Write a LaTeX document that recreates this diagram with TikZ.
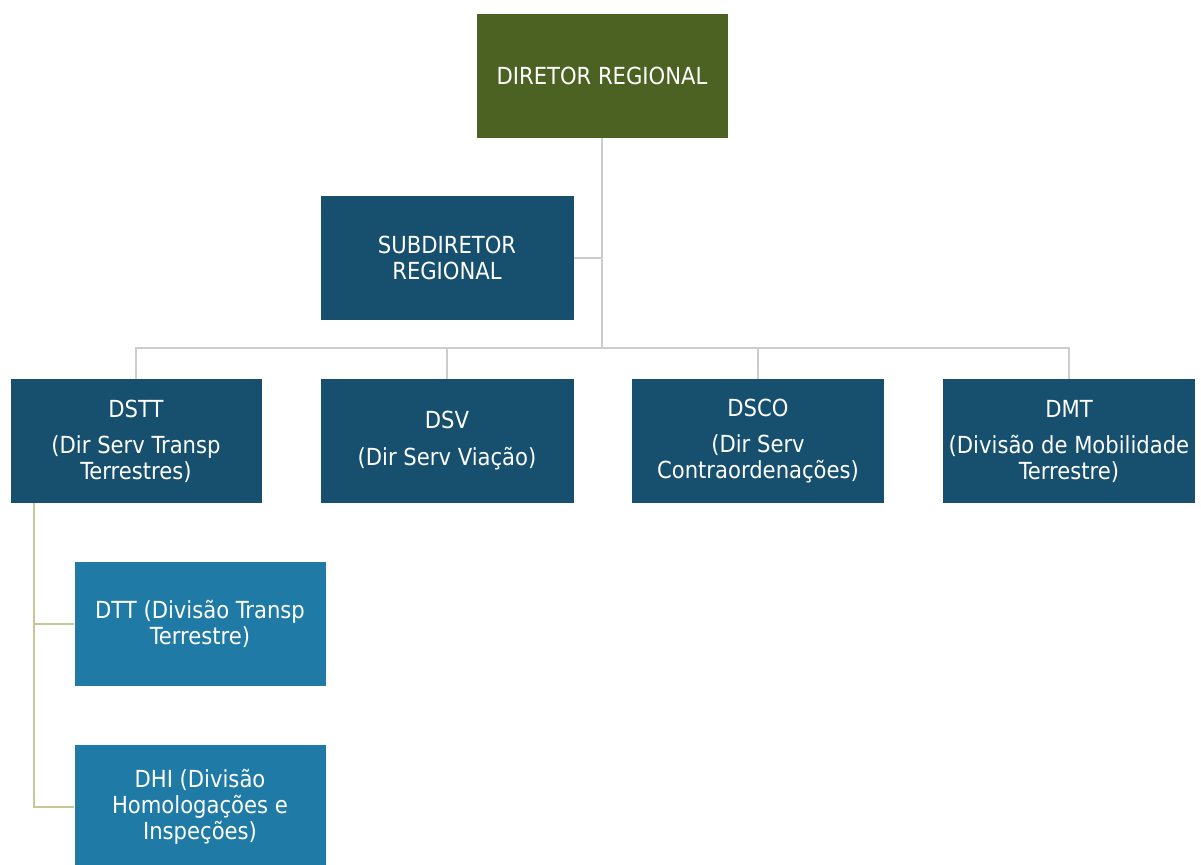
\documentclass[tikz,border=0pt]{standalone}
\usepackage{fontspec}
\setmainfont{DejaVu Sans Condensed}
\usepackage{tikz}
\definecolor{headgreen}{RGB}{76,98,34}
\definecolor{unitblue}{RGB}{22,80,110}
\definecolor{divblue}{RGB}{32,122,166}
\definecolor{linkgray}{RGB}{205,205,205}
\definecolor{linkolive}{RGB}{200,200,150}
\tikzstyle{box node}      = [rectangle, text=white, align=center, inner sep=0,
                             minimum width=251, minimum height=124,
                             font=\fontsize{23.5}{26}\selectfont]
\tikzstyle{head node}     = [box node, fill=headgreen]
\tikzstyle{unit node}     = [box node, fill=unitblue]
\tikzstyle{division node} = [box node, fill=divblue]
\tikzstyle{link}          = [draw=linkgray, line width=2]
\tikzstyle{sublink}       = [draw=linkolive, line width=2]

\begin{document}
\begin{tikzpicture}[x=1pt, y=-1pt]
    \useasboundingbox[fill=white] (0,0) rectangle (1201,864);

    % Top of the chart
    \node(dir)[head node] at (602,76) {DIRETOR REGIONAL};
    \node(sub)[unit node, minimum width=253] at (447,258) {SUBDIRETOR\\REGIONAL};

    % Directorates
    \node(dstt)[unit node] at (136,441) {DSTT\\[10pt](Dir Serv Transp\\Terrestres)};
    \node(dsv)[unit node, minimum width=253] at (447,441) {DSV\\[11pt](Dir Serv Viação)};
    \node(dsco)[unit node, minimum width=252] at (758,441) {DSCO\\[10pt](Dir Serv\\Contraordenações)};
    \node(dmt)[unit node, minimum width=252] at (1069,441) {DMT\\[10pt](Divisão de Mobilidade\\Terrestre)};

    % Divisions under DSTT
    \node(dtt)[division node] at (200,624) {DTT (Divisão Transp\\Terrestre)};
    \node(dhi)[division node] at (200,807) {DHI (Divisão\\Homologações e\\Inspeções)};

    \coordinate(bus) at (602,348);
    \coordinate(spine) at (34,503);

    \draw[link](dir.south)--(bus);
    \draw[link](sub.east)--(sub.east -| bus);
    \draw[link](dstt.north)|-(bus)-|(dmt.north);
    \draw[link](dsv.north)--(dsv.north |- bus);
    \draw[link](dsco.north)--(dsco.north |- bus);

    \draw[sublink](spine)--(spine |- dhi.west)--(dhi.west);
    \draw[sublink](spine |- dtt.west)--(dtt.west);

\end{tikzpicture}
\end{document}
